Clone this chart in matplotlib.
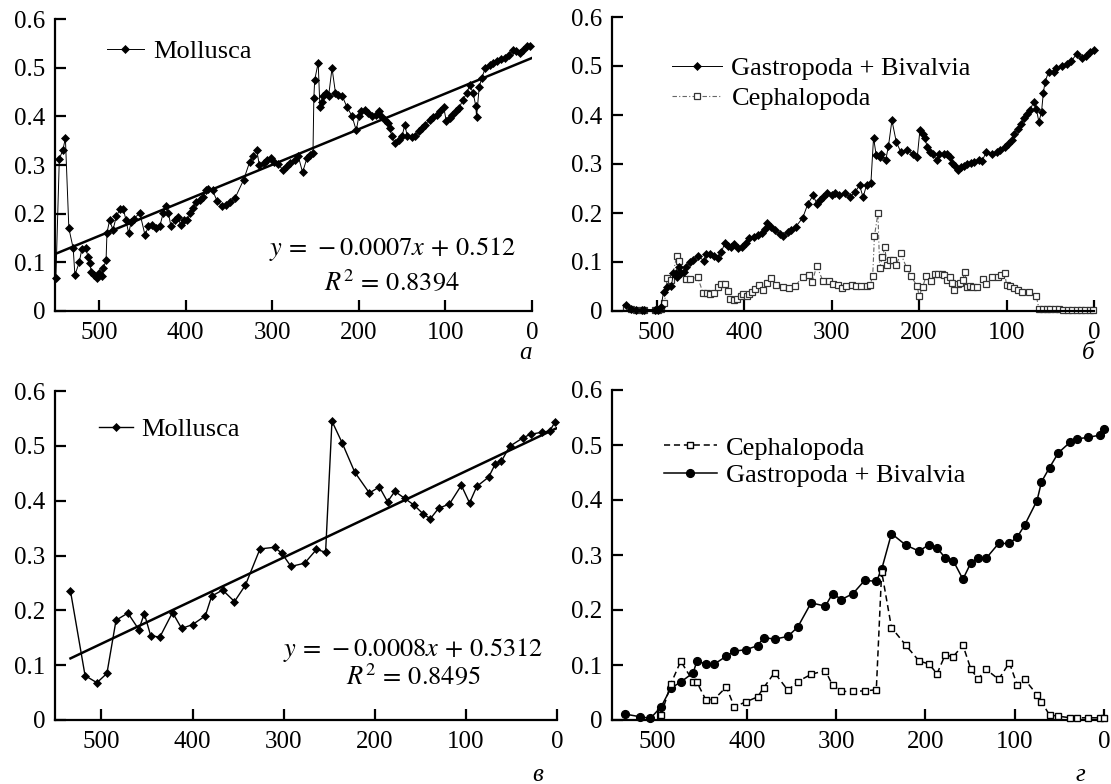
import numpy as np
import matplotlib
matplotlib.use('Agg')
import matplotlib.pyplot as plt

plt.rcParams['font.family'] = ['Liberation Serif', 'DejaVu Serif']
plt.rcParams['mathtext.fontset'] = 'stix'

# Panel a: Mollusca (fine resolution)
t_a = [550, 546, 542, 539, 535, 530, 528, 523, 520, 515,
       513, 511, 509, 506, 503, 500, 497, 495, 492, 491,
       488, 484, 480, 476, 472, 469, 466, 463, 460, 453,
       447, 443, 439, 434, 430, 426, 423, 420, 417, 412,
       409, 406, 402, 398, 395, 392, 388, 384, 380, 377,
       374, 369, 364, 358, 354, 349, 343, 333, 326, 322,
       318, 315, 310, 306, 302, 298, 293, 288, 283, 279,
       274, 270, 265, 260, 256, 253, 252, 251, 247, 245,
       243, 241, 238, 235, 231, 227, 224, 219, 214, 208,
       203, 200, 197, 193, 189, 185, 180, 177, 174, 170,
       166, 164, 162, 158, 154, 150, 147, 144, 139, 135,
       131, 127, 124, 118, 114, 110, 106, 102, 99, 95,
       92, 88, 84, 80, 75, 72, 68, 65, 64, 61,
       58, 54, 49, 45, 41, 36, 31, 26, 22, 18,
       14, 10, 6, 2]
mollusca_a = [0.067, 0.313, 0.33, 0.355, 0.17, 0.129, 0.074, 0.10, 0.127, 0.129,
              0.11, 0.098, 0.081, 0.074, 0.067, 0.078, 0.072, 0.088, 0.105, 0.16,
              0.186, 0.167, 0.195, 0.209, 0.209, 0.187, 0.16, 0.182, 0.19, 0.201,
              0.156, 0.174, 0.176, 0.17, 0.174, 0.201, 0.215, 0.201, 0.174, 0.187,
              0.194, 0.177, 0.187, 0.186, 0.201, 0.211, 0.223, 0.228, 0.235, 0.248,
              0.25, 0.248, 0.227, 0.215, 0.218, 0.223, 0.232, 0.27, 0.307, 0.318,
              0.331, 0.30, 0.304, 0.311, 0.314, 0.307, 0.302, 0.29, 0.297, 0.304,
              0.311, 0.318, 0.285, 0.314, 0.321, 0.324, 0.438, 0.475, 0.51, 0.42,
              0.43, 0.441, 0.447, 0.441, 0.499, 0.448, 0.444, 0.441, 0.42, 0.401,
              0.371, 0.40, 0.41, 0.414, 0.407, 0.40, 0.403, 0.41, 0.40, 0.393,
              0.386, 0.376, 0.359, 0.345, 0.352, 0.359, 0.383, 0.359, 0.357, 0.36,
              0.369, 0.376, 0.383, 0.393, 0.399, 0.403, 0.41, 0.419, 0.39, 0.396,
              0.403, 0.41, 0.417, 0.434, 0.448, 0.465, 0.448, 0.422, 0.399, 0.46,
              0.479, 0.499, 0.506, 0.51, 0.513, 0.517, 0.52, 0.527, 0.537, 0.534,
              0.53, 0.536, 0.544, 0.545]

# Panel b: Gastropoda + Bivalvia and Cephalopoda (fine resolution)
t_b_gastro = [535, 529, 523, 517, 514, 502, 498, 495, 492, 488,
              483, 481, 478, 477, 474, 472, 469, 466, 462, 458,
              453, 446, 443, 439, 434, 430, 426, 422, 418, 415,
              411, 407, 402, 398, 394, 389, 384, 380, 376, 374,
              369, 365, 359, 355, 350, 346, 341, 333, 327, 321,
              317, 313, 310, 305, 300, 296, 291, 285, 279, 273,
              268, 264, 260, 255, 252, 249, 245, 243, 238, 235,
              231, 226, 221, 214, 207, 202, 199, 196, 193, 191,
              188, 184, 180, 177, 172, 168, 165, 162, 159, 156,
              152, 149, 145, 141, 137, 132, 128, 123, 117, 111,
              107, 102, 98, 94, 91, 87, 83, 80, 77, 73,
              69, 66, 63, 60, 58, 56, 52, 46, 43, 37,
              31, 26, 20, 14, 9, 5, 0]
gastro_b = [0.012, 0.005, 0.003, 0.003, 0.003, 0.003, 0.003, 0.009, 0.039, 0.048,
            0.051, 0.077, 0.078, 0.07, 0.09, 0.077, 0.08, 0.09, 0.10, 0.104,
            0.112, 0.103, 0.117, 0.116, 0.112, 0.109, 0.121, 0.138, 0.132, 0.131,
            0.136, 0.128, 0.131, 0.138, 0.148, 0.15, 0.155, 0.16, 0.168, 0.179,
            0.172, 0.165, 0.158, 0.153, 0.162, 0.166, 0.172, 0.19, 0.219, 0.236,
            0.219, 0.226, 0.233, 0.24, 0.236, 0.241, 0.236, 0.241, 0.233, 0.243,
            0.257, 0.232, 0.257, 0.262, 0.354, 0.318, 0.315, 0.321, 0.309, 0.336,
            0.389, 0.345, 0.325, 0.329, 0.321, 0.315, 0.369, 0.361, 0.354, 0.335,
            0.325, 0.32, 0.308, 0.321, 0.32, 0.321, 0.315, 0.302, 0.296, 0.287,
            0.293, 0.296, 0.301, 0.302, 0.304, 0.309, 0.306, 0.325, 0.32, 0.325,
            0.328, 0.335, 0.34, 0.349, 0.362, 0.372, 0.381, 0.393, 0.403, 0.41,
            0.427, 0.413, 0.386, 0.406, 0.444, 0.467, 0.488, 0.488, 0.495, 0.499,
            0.505, 0.51, 0.524, 0.517, 0.52, 0.529, 0.532]

t_b_ceph = [535, 529, 523, 517, 514, 502, 498, 495, 491, 488,
            483, 477, 474, 471, 466, 462, 453, 447, 442, 439,
            434, 430, 426, 422, 418, 416, 412, 408, 404, 401,
            397, 394, 391, 387, 383, 378, 374, 369, 363, 356,
            349, 342, 333, 326, 322, 317, 310, 303, 298, 293,
            288, 283, 277, 272, 266, 260, 256, 253, 251, 247,
            245, 242, 239, 237, 233, 230, 226, 221, 214, 209,
            202, 200, 196, 192, 186, 182, 178, 174, 171, 168,
            165, 162, 160, 156, 153, 150, 148, 145, 142, 138,
            134, 127, 123, 117, 110, 106, 102, 100, 96, 92,
            87, 82, 74, 66, 63, 58, 54, 50, 45, 40,
            35, 30, 25, 20, 15, 10, 5, 1]
ceph_b = [0.008, 0.004, 0.003, 0.003, 0.003, 0.003, 0.003, 0.004, 0.016, 0.067,
          0.063, 0.112, 0.103, 0.084, 0.065, 0.065, 0.069, 0.037, 0.036, 0.035,
          0.037, 0.048, 0.056, 0.055, 0.041, 0.024, 0.022, 0.024, 0.031, 0.035,
          0.031, 0.035, 0.039, 0.044, 0.053, 0.043, 0.058, 0.067, 0.053, 0.048,
          0.046, 0.05, 0.07, 0.073, 0.06, 0.092, 0.062, 0.062, 0.056, 0.053,
          0.046, 0.05, 0.053, 0.051, 0.051, 0.051, 0.053, 0.071, 0.153, 0.199,
          0.087, 0.111, 0.13, 0.094, 0.105, 0.104, 0.094, 0.118, 0.087, 0.071,
          0.05, 0.031, 0.048, 0.071, 0.062, 0.075, 0.075, 0.075, 0.073, 0.063,
          0.07, 0.058, 0.043, 0.055, 0.058, 0.063, 0.08, 0.048, 0.051, 0.048,
          0.048, 0.065, 0.055, 0.069, 0.069, 0.073, 0.078, 0.053, 0.05, 0.046,
          0.043, 0.039, 0.039, 0.031, 0.005, 0.004, 0.004, 0.004, 0.004, 0.004,
          0.003, 0.003, 0.003, 0.003, 0.003, 0.003, 0.003, 0.003]

# Panel c: Mollusca (coarse resolution)
t_c = [534, 518, 505, 494, 484, 471, 459, 453, 446, 436,
       422, 412, 400, 386, 379, 367, 354, 342, 326, 310,
       302, 292, 277, 264, 254, 247, 236, 222, 206, 195,
       186, 178, 167, 157, 147, 139, 130, 118, 105, 96,
       88, 75, 68, 61, 52, 37, 29, 16, 8, 2]
mollusca_c = [0.235, 0.081, 0.068, 0.085, 0.182, 0.195, 0.165, 0.194, 0.154, 0.151,
              0.196, 0.167, 0.174, 0.19, 0.226, 0.237, 0.216, 0.246, 0.312, 0.315,
              0.304, 0.28, 0.286, 0.311, 0.306, 0.545, 0.506, 0.452, 0.414, 0.425,
              0.398, 0.417, 0.404, 0.392, 0.376, 0.367, 0.386, 0.394, 0.428, 0.396,
              0.426, 0.443, 0.466, 0.472, 0.499, 0.515, 0.521, 0.525, 0.527, 0.544]

# Panel d: Cephalopoda and Gastropoda + Bivalvia (coarse resolution)
t_d = [537, 520, 508, 496, 485, 474, 460, 456, 446, 437,
       423, 414, 401, 388, 381, 369, 354, 343, 328, 312,
       304, 294, 281, 268, 255, 249, 238, 222, 207, 196,
       187, 178, 169, 158, 149, 141, 132, 118, 106, 97,
       89, 75, 70, 61, 51, 38, 30, 18, 4, 0]
gastro_d = [0.011, 0.006, 0.003, 0.024, 0.058, 0.069, 0.086, 0.107, 0.102, 0.101,
            0.116, 0.125, 0.128, 0.135, 0.15, 0.147, 0.152, 0.169, 0.213, 0.207,
            0.23, 0.219, 0.23, 0.254, 0.252, 0.274, 0.339, 0.318, 0.307, 0.319,
            0.313, 0.295, 0.29, 0.256, 0.286, 0.294, 0.294, 0.321, 0.321, 0.333,
            0.354, 0.399, 0.433, 0.459, 0.486, 0.505, 0.511, 0.514, 0.518, 0.53]
t_d_ceph = t_d[3:]
ceph_d = [0.009, 0.066, 0.107, 0.07, 0.069, 0.037, 0.037, 0.06, 0.024, 0.033,
          0.042, 0.059, 0.086, 0.054, 0.07, 0.083, 0.09, 0.063, 0.052, 0.052,
          0.053, 0.055, 0.27, 0.168, 0.136, 0.107, 0.102, 0.084, 0.118, 0.115,
          0.136, 0.092, 0.075, 0.092, 0.074, 0.104, 0.063, 0.074, 0.046, 0.033,
          0.009, 0.007, 0.004, 0.004, 0.004, 0.004, 0.004]

x_ticks = [500, 400, 300, 200, 100, 0]
y_ticks = [0, 0.1, 0.2, 0.3, 0.4, 0.5, 0.6]
y_tick_labels = ['0', '0.1', '0.2', '0.3', '0.4', '0.5', '0.6']

W, H = 1111, 784


def make_axes(fig, left, top, right, bottom):
    """Create axes from pixel box, styled like the Excel original"""
    ax = fig.add_axes([left / W, 1 - bottom / H, (right - left) / W, (bottom - top) / H])
    ax.set_xlim(551, 0)
    ax.set_ylim(0, 0.6)
    ax.set_xticks(x_ticks)
    ax.set_xticklabels([str(v) for v in x_ticks])
    ax.set_yticks(y_ticks)
    ax.set_yticklabels(y_tick_labels)
    for side in ['top', 'right']:
        ax.spines[side].set_visible(False)
    for side in ['left', 'bottom']:
        ax.spines[side].set_linewidth(1.6)
    ax.tick_params(direction='in', length=8, width=1.6, labelsize=18)
    ax.tick_params(axis='x', pad=8)
    ax.tick_params(axis='y', pad=7)
    return ax


def add_trend(ax, t, v, lw):
    """Linear trend fitted to the series, drawn from the oldest point to 0"""
    k, b = np.polyfit(t, v, 1)
    xs = np.array([max(t), 0])
    ax.plot(xs, k * xs + b, color='black', lw=lw, zorder=1)


def add_equation(ax, x, y1, y2, eq, r2):
    ax.text(x, y1, eq, transform=ax.transAxes, ha='center', va='center', fontsize=19)
    ax.text(x, y2, r2, transform=ax.transAxes, ha='center', va='center', fontsize=19)


fig = plt.figure(figsize=(W / 100, H / 100), dpi=100)

# --- a ---
ax = make_axes(fig, 55, 19, 532, 311)
ax.plot(t_a, mollusca_a, color='black', lw=0.7, marker='D', ms=4.1,
        mew=0.5, label='Mollusca', zorder=2, clip_on=False)
add_trend(ax, t_a, mollusca_a, 1.8)
ax.legend(loc='center left', bbox_to_anchor=(0.109, 0.89), frameon=False, fontsize=19,
          handlelength=1.4, handletextpad=0.35, borderpad=0, borderaxespad=0)
add_equation(ax, 0.707, 0.212, 0.10,
             r'$y\,=\,-0.0007x\,+\,0.512$', r'$R^2\,=\,0.8394$')

# --- b ---
ax = make_axes(fig, 612, 17, 1094, 311)
ax.plot(t_b_gastro, gastro_b, color='black', lw=0.7, marker='D', ms=4.1,
        mew=0.5, label='Gastropoda + Bivalvia', zorder=3, clip_on=False)
ax.plot(t_b_ceph, ceph_b, color='#666666', lw=0.8, ls=(0, (4, 2, 1, 2)), marker='s', ms=4.5,
        mfc='white', mec='#333333', mew=0.9, label='Cephalopoda', zorder=2, clip_on=False)
ax.legend(loc='center left', bbox_to_anchor=(0.1245, 0.775), frameon=False, fontsize=19,
          handlelength=1.9, handletextpad=0.35, labelspacing=0.25,
          borderpad=0, borderaxespad=0)

# --- c ---
ax = make_axes(fig, 55, 391, 557, 720)
ax.plot(t_c, mollusca_c, color='black', lw=1.0, marker='D', ms=3.8,
        mew=0.5, label='Mollusca', zorder=2, clip_on=False)
add_trend(ax, t_c, mollusca_c, 1.8)
ax.legend(loc='center left', bbox_to_anchor=(0.0875, 0.884), frameon=False, fontsize=19,
          handlelength=1.3, handletextpad=0.3, borderpad=0, borderaxespad=0)
add_equation(ax, 0.714, 0.213, 0.135,
             r'$y\,=\,-0.0008x\,+\,0.5312$', r'$R^2\,=\,0.8495$')

# --- d ---
ax = make_axes(fig, 612, 390, 1104, 720)
ax.plot(t_d_ceph, ceph_d, color='black', lw=1.1, ls=(0, (4, 2.5)), marker='s', ms=4.8,
        mfc='white', mec='black', mew=1.0, label='Cephalopoda', zorder=3, clip_on=False)
ax.plot(t_d, gastro_d, color='black', lw=1.1, marker='o', ms=5.6,
        label='Gastropoda + Bivalvia', zorder=2, clip_on=False)
ax.legend(loc='center left', bbox_to_anchor=(0.1057, 0.783), frameon=False, fontsize=19,
          handlelength=2.0, handletextpad=0.35, labelspacing=0.15,
          borderpad=0, borderaxespad=0)

# panel letters
for x, y, s in [(526, 353, 'а'), (1088, 353, 'б'), (538, 775, 'в'), (1080, 775, 'г')]:
    fig.text(x / W, 1 - y / H, s, ha='center', va='center', fontsize=18, style='italic')

fig.savefig('out.png', dpi=100)
